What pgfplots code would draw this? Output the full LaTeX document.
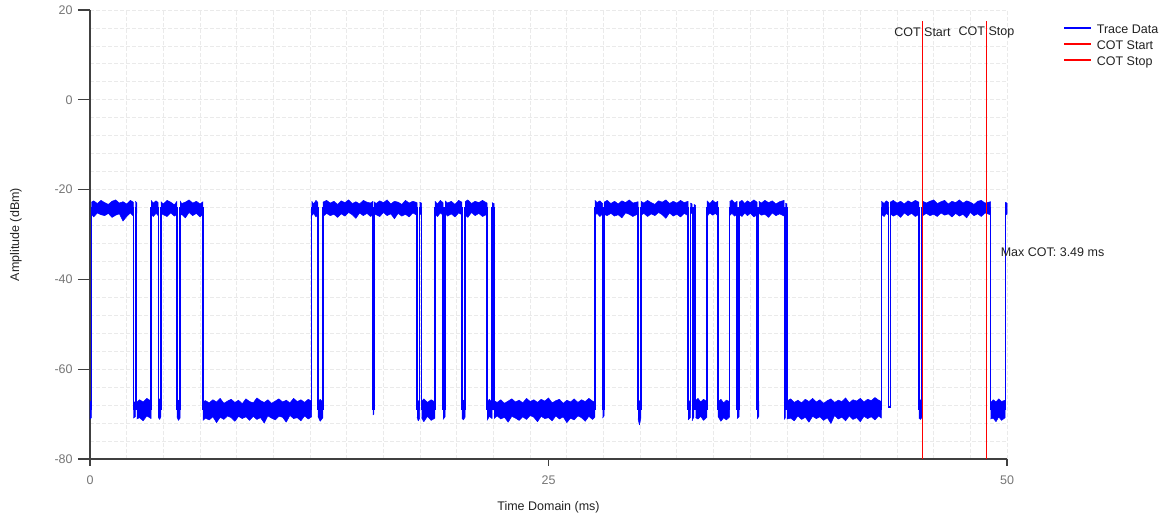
\documentclass[border=0pt]{standalone}
\usepackage{pgfplots}
\pgfplotsset{compat=1.18}
\usepackage{fontspec}
\setmainfont{Liberation Sans}
\definecolor{tracec}{RGB}{0,0,255}
\definecolor{cotc}{RGB}{255,0,0}
\definecolor{gridc}{RGB}{234,234,234}
\definecolor{axisc}{RGB}{64,64,64}
\definecolor{tickc}{RGB}{118,118,118}
\definecolor{labc}{RGB}{34,34,34}
\pgfplotsset{band/.style={forget plot, draw=tracec, fill=tracec, line width=0.5pt, line join=round}}
\begin{document}
\fontsize{12.5}{15}\selectfont
\begin{tikzpicture}
\begin{axis}[
 scale only axis, width=917pt, height=449pt,
 xmin=0, xmax=50, ymin=-80, ymax=20,
 clip=false,
 axis x line*=bottom, axis y line*=left,
 axis line style={axisc, line width=1.3pt, -},
 xtick={0,25,50}, ytick={-80,-60,...,20},
 minor xtick={0,2,...,50}, minor ytick={-80,-76,...,20},
 xminorgrids=true, yminorgrids=true,
 minor grid style={gridc, dash pattern=on 4pt off 2pt, line width=0.8pt},
 minor tick length=0pt, major tick length=12pt,
 tickwidth=12pt, subtickwidth=0pt,
 xtick align=outside, ytick align=outside,
 xtick style={draw=none},
 ytick style={axisc, line width=1.3pt},
 /pgf/number format/assume math mode=true,
 ticklabel style={font=\fontsize{12.5}{15}\selectfont, text=tickc},
 yticklabel style={xshift=-1pt},
 xticklabel style={yshift=0pt},
 xlabel={Time Domain (ms)}, ylabel={Amplitude (dBm)},
 every axis x label/.style={at={(axis description cs:0.5,0)}, yshift=-48pt, anchor=center, font=\fontsize{12.5}{15}\selectfont, text=labc},
 every axis y label/.style={at={(axis description cs:0,0.5)}, xshift=-74pt, rotate=90, anchor=center, font=\fontsize{12.5}{15}\selectfont, text=labc},
 legend style={at={(rel axis cs:1.058,0.975)}, anchor=north west, draw=none, fill=none,
   font=\fontsize{12.5}{15}\selectfont, text=labc, row sep=1pt,
   nodes={inner sep=1.5pt, text height=9pt, text depth=3pt},
   /tikz/every odd column/.append style={column sep=3pt}},
 legend cell align=left,
 legend image code/.code={\draw[#1, line width=2pt] (0pt,2.5pt) -- (27pt,2.5pt);},
]
% ---- trace bands (high level) ----
\addplot[band] coordinates {(0.08,-22.8)(0.2,-22.5)(0.4,-23.1)(0.6,-22.4)(0.8,-22.9)(1.0,-23.3)(1.2,-22.6)(1.4,-22.3)(1.6,-23.0)(1.8,-22.7)(2.0,-23.2)(2.2,-22.4)(2.36,-22.8)(2.36,-25.9)(2.2,-25.2)(2.0,-26.0)(1.8,-27.0)(1.6,-25.4)(1.4,-25.7)(1.2,-26.2)(1.0,-25.3)(0.8,-25.8)(0.6,-25.6)(0.4,-25.2)(0.2,-26.1)(0.08,-25.4)};
\addplot[band] coordinates {(2.47,-22.6)(2.55,-22.9)(2.55,-25.3)(2.47,-25.6)};
\addplot[band] coordinates {(3.33,-22.4)(3.45,-23.0)(3.6,-22.5)(3.72,-22.9)(3.72,-25.8)(3.6,-25.3)(3.45,-26.0)(3.33,-25.4)};
\addplot[band] coordinates {(3.87,-22.7)(4.0,-23.2)(4.2,-22.4)(4.4,-22.8)(4.6,-23.4)(4.74,-22.6)(4.74,-25.5)(4.6,-25.9)(4.4,-25.2)(4.2,-26.0)(4.0,-25.6)(3.87,-25.3)};
\addplot[band] coordinates {(4.91,-22.5)(5.0,-23.1)(5.2,-22.8)(5.4,-22.3)(5.6,-23.0)(5.8,-22.6)(6.0,-23.2)(6.16,-22.7)(6.16,-25.4)(6.0,-26.1)(5.8,-25.3)(5.6,-25.8)(5.4,-25.1)(5.2,-26.3)(5.0,-25.5)(4.91,-25.9)};
\addplot[band] coordinates {(12.09,-22.6)(12.2,-23.2)(12.32,-22.4)(12.43,-22.9)(12.43,-25.6)(12.32,-26.1)(12.2,-25.3)(12.09,-25.8)};
\addplot[band] coordinates {(12.7,-22.8)(12.9,-22.4)(13.1,-23.0)(13.3,-22.6)(13.5,-23.3)(13.7,-22.5)(13.9,-22.9)(14.1,-22.3)(14.3,-23.1)(14.5,-22.7)(14.7,-23.2)(14.9,-22.4)(15.1,-22.8)(15.3,-23.0)(15.43,-22.6)(15.43,-25.5)(15.3,-26.0)(15.1,-25.3)(14.9,-25.8)(14.7,-25.2)(14.5,-26.4)(14.3,-25.6)(14.1,-25.1)(13.9,-25.9)(13.7,-25.4)(13.5,-26.2)(13.3,-25.5)(13.1,-25.8)(12.9,-25.3)(12.7,-26.0)};
\addplot[band] coordinates {(15.48,-22.7)(15.6,-23.1)(15.8,-22.5)(16.0,-22.9)(16.2,-22.3)(16.4,-23.2)(16.6,-22.6)(16.8,-22.8)(17.0,-23.3)(17.2,-22.4)(17.4,-23.0)(17.6,-22.6)(17.83,-22.9)(17.83,-25.7)(17.6,-25.2)(17.4,-26.1)(17.2,-25.5)(17.0,-25.9)(16.8,-25.3)(16.6,-26.5)(16.4,-25.4)(16.2,-25.8)(16.0,-25.1)(15.8,-26.0)(15.6,-25.6)(15.48,-25.3)};
\addplot[band] coordinates {(17.97,-22.8)(18.08,-23.0)(18.08,-25.4)(17.97,-25.6)};
\addplot[band] coordinates {(18.81,-22.6)(18.95,-23.2)(19.1,-22.4)(19.25,-22.9)(19.25,-25.7)(19.1,-25.2)(18.95,-26.0)(18.81,-25.5)};
\addplot[band] coordinates {(19.36,-22.5)(19.5,-23.0)(19.7,-22.6)(19.9,-23.3)(20.1,-22.4)(20.28,-22.8)(20.28,-25.6)(20.1,-25.2)(19.9,-26.1)(19.7,-25.4)(19.5,-25.9)(19.36,-25.3)};
\addplot[band] coordinates {(20.45,-22.7)(20.6,-22.3)(20.8,-23.1)(21.0,-22.6)(21.2,-22.9)(21.4,-22.4)(21.65,-23.0)(21.65,-25.5)(21.4,-26.0)(21.2,-25.3)(21.0,-25.8)(20.8,-25.1)(20.6,-26.2)(20.45,-25.6)};
\addplot[band] coordinates {(21.92,-22.9)(22.03,-23.1)(22.03,-25.5)(21.92,-25.4)};
\addplot[band] coordinates {(27.53,-22.4)(27.65,-22.9)(27.8,-22.5)(27.95,-23.1)(27.95,-25.4)(27.8,-26.0)(27.65,-25.3)(27.53,-25.7)};
\addplot[band] coordinates {(28.03,-22.8)(28.2,-22.4)(28.4,-23.1)(28.6,-22.6)(28.8,-23.2)(29.0,-22.5)(29.2,-22.9)(29.4,-22.3)(29.6,-23.0)(29.88,-22.7)(29.88,-25.4)(29.6,-26.0)(29.4,-25.5)(29.2,-25.2)(29.0,-26.3)(28.8,-25.6)(28.6,-25.9)(28.4,-25.3)(28.2,-25.8)(28.03,-25.5)};
\addplot[band] coordinates {(30.04,-22.6)(30.2,-23.0)(30.4,-22.4)(30.6,-22.9)(30.8,-23.3)(31.0,-22.5)(31.2,-22.8)(31.4,-22.3)(31.6,-23.1)(31.8,-22.6)(32.0,-23.0)(32.2,-22.4)(32.4,-22.9)(32.61,-22.6)(32.61,-25.8)(32.4,-25.3)(32.2,-26.1)(32.0,-25.5)(31.8,-25.9)(31.6,-25.2)(31.4,-26.4)(31.2,-25.6)(31.0,-25.1)(30.8,-25.8)(30.6,-25.4)(30.4,-26.0)(30.2,-25.3)(30.04,-25.7)};
\addplot[band] coordinates {(32.74,-23.0)(32.83,-23.2)(32.83,-25.2)(32.74,-25.4)};
\addplot[band] coordinates {(32.93,-23.3)(33.02,-23.5)(33.02,-25.0)(32.93,-25.2)};
\addplot[band] coordinates {(33.64,-22.5)(33.8,-23.1)(33.95,-22.4)(34.1,-22.9)(34.24,-22.6)(34.24,-25.9)(34.1,-25.3)(33.95,-25.7)(33.8,-25.2)(33.64,-26.0)};
\addplot[band] coordinates {(34.88,-22.7)(35.0,-22.3)(35.15,-23.0)(35.28,-22.6)(35.28,-25.4)(35.15,-25.9)(35.0,-25.3)(34.88,-25.8)};
\addplot[band] coordinates {(35.39,-22.8)(35.55,-22.4)(35.7,-23.1)(35.85,-22.5)(36.0,-22.9)(36.2,-22.3)(36.37,-22.8)(36.37,-25.6)(36.2,-26.1)(36.0,-25.3)(35.85,-25.8)(35.7,-25.2)(35.55,-26.0)(35.39,-25.5)};
\addplot[band] coordinates {(36.47,-22.6)(36.6,-23.0)(36.8,-22.4)(37.0,-22.9)(37.2,-22.5)(37.4,-23.2)(37.6,-22.7)(37.85,-22.4)(37.85,-25.9)(37.6,-25.4)(37.4,-25.8)(37.2,-25.2)(37.0,-26.2)(36.8,-25.5)(36.6,-25.7)(36.47,-25.3)};
\addplot[band] coordinates {(37.92,-23.0)(38.0,-23.2)(38.0,-25.3)(37.92,-25.5)};
\addplot[band] coordinates {(43.15,-22.6)(43.3,-23.1)(43.42,-22.5)(43.55,-22.9)(43.55,-25.7)(43.42,-25.3)(43.3,-26.0)(43.15,-25.5)};
\addplot[band] coordinates {(43.63,-22.8)(43.8,-22.4)(44.0,-23.0)(44.2,-22.6)(44.4,-23.2)(44.6,-22.5)(44.8,-22.9)(45.0,-22.4)(45.2,-22.8)(45.2,-25.5)(45.0,-26.0)(44.8,-25.3)(44.6,-25.8)(44.4,-25.2)(44.2,-26.2)(44.0,-25.5)(43.8,-25.9)(43.63,-25.4)};
\addplot[band] coordinates {(45.37,-22.5)(45.6,-23.0)(45.8,-22.6)(46.0,-22.3)(46.2,-23.1)(46.4,-22.7)(46.6,-22.4)(46.8,-23.2)(47.0,-22.6)(47.2,-22.9)(47.4,-22.3)(47.6,-23.0)(47.8,-22.5)(48.0,-22.8)(48.2,-23.3)(48.4,-22.6)(48.6,-22.4)(48.8,-23.0)(49.1,-22.7)(49.1,-25.6)(48.8,-25.2)(48.6,-26.0)(48.4,-25.4)(48.2,-25.8)(48.0,-25.1)(47.8,-26.3)(47.6,-25.5)(47.4,-25.9)(47.2,-25.3)(47.0,-26.1)(46.8,-25.4)(46.6,-25.7)(46.4,-25.2)(46.2,-26.0)(46.0,-25.5)(45.8,-25.8)(45.6,-25.3)(45.37,-25.9)};
\addplot[band] coordinates {(49.9,-22.8)(50,-23.0)(50,-25.5)(49.9,-25.7)};
% ---- trace bands (low level) ----
\addplot[band] coordinates {(0,-67.3)(0.08,-67.0)(0.08,-70.8)(0,-71.1)};
\addplot[band] coordinates {(2.36,-67.5)(2.47,-67.2)(2.47,-70.6)(2.36,-70.9)};
\addplot[band] coordinates {(2.55,-67.4)(2.7,-66.8)(2.9,-67.3)(3.1,-66.5)(3.33,-67.1)(3.33,-71.0)(3.1,-70.4)(2.9,-71.5)(2.7,-70.8)(2.55,-71.1)};
\addplot[band] coordinates {(3.72,-67.0)(3.8,-66.6)(3.87,-67.2)(3.87,-70.5)(3.8,-71.2)(3.72,-70.7)};
\addplot[band] coordinates {(4.74,-67.5)(4.82,-66.9)(4.91,-67.3)(4.91,-70.9)(4.82,-71.4)(4.74,-70.6)};
\addplot[band] coordinates {(6.16,-67.2)(6.3,-67.0)(6.5,-67.5)(6.7,-66.8)(6.9,-67.3)(7.1,-66.5)(7.3,-67.6)(7.5,-67.1)(7.7,-66.7)(7.9,-67.4)(8.1,-66.9)(8.3,-67.7)(8.5,-66.6)(8.7,-67.2)(8.9,-67.5)(9.1,-66.4)(9.3,-67.0)(9.5,-67.4)(9.7,-66.8)(9.9,-67.6)(10.1,-67.1)(10.3,-66.6)(10.5,-67.3)(10.7,-66.9)(10.9,-67.5)(11.1,-66.5)(11.3,-67.2)(11.5,-66.8)(11.7,-67.4)(11.9,-66.7)(12.09,-67.1)(12.09,-70.6)(11.9,-71.1)(11.7,-70.4)(11.5,-71.5)(11.3,-70.8)(11.1,-71.0)(10.9,-70.3)(10.7,-71.8)(10.5,-70.7)(10.3,-70.5)(10.1,-71.3)(9.9,-70.9)(9.7,-70.4)(9.5,-72.0)(9.3,-70.8)(9.1,-71.2)(8.9,-70.5)(8.7,-71.4)(8.5,-70.6)(8.3,-71.0)(8.1,-70.5)(7.9,-71.6)(7.7,-70.8)(7.5,-70.4)(7.3,-71.2)(7.1,-70.7)(6.9,-71.9)(6.7,-70.6)(6.5,-71.3)(6.3,-70.9)(6.16,-71.4)};
\addplot[band] coordinates {(12.43,-67.3)(12.55,-66.7)(12.7,-67.4)(12.7,-70.8)(12.55,-71.6)(12.43,-70.5)};
\addplot[band] coordinates {(15.43,-67.8)(15.48,-67.8)(15.48,-70.0)(15.43,-70.2)};
\addplot[band] coordinates {(17.83,-67.6)(17.9,-67.0)(17.97,-67.4)(17.97,-71.0)(17.9,-71.5)(17.83,-70.7)};
\addplot[band] coordinates {(18.08,-67.2)(18.2,-66.6)(18.4,-67.4)(18.6,-66.8)(18.81,-67.3)(18.81,-70.9)(18.6,-71.4)(18.4,-70.5)(18.2,-71.7)(18.08,-70.8)};
\addplot[band] coordinates {(19.25,-67.5)(19.36,-67.1)(19.36,-70.6)(19.25,-71.2)};
\addplot[band] coordinates {(20.28,-67.4)(20.36,-66.9)(20.45,-67.3)(20.45,-70.7)(20.36,-71.3)(20.28,-70.9)};
\addplot[band] coordinates {(21.65,-67.3)(21.78,-66.7)(21.92,-67.5)(21.92,-71.0)(21.78,-70.5)(21.65,-71.4)};
\addplot[band] coordinates {(22.03,-67.0)(22.2,-67.4)(22.4,-66.8)(22.6,-67.6)(22.8,-67.1)(23.0,-66.6)(23.2,-67.3)(23.4,-66.9)(23.6,-67.5)(23.8,-66.5)(24.0,-67.2)(24.2,-66.8)(24.4,-67.4)(24.6,-66.7)(24.8,-67.1)(25.0,-66.4)(25.2,-67.5)(25.4,-67.0)(25.6,-66.7)(25.8,-67.6)(26.0,-66.9)(26.2,-67.3)(26.4,-66.6)(26.6,-67.4)(26.8,-66.8)(27.0,-67.2)(27.2,-66.5)(27.4,-67.1)(27.53,-67.3)(27.53,-70.7)(27.4,-71.2)(27.2,-70.5)(27.0,-71.6)(26.8,-70.8)(26.6,-70.4)(26.4,-71.3)(26.2,-70.9)(26.0,-71.9)(25.8,-70.6)(25.6,-71.1)(25.4,-70.4)(25.2,-71.5)(25.0,-70.8)(24.8,-71.0)(24.6,-70.5)(24.4,-71.7)(24.2,-70.7)(24.0,-70.3)(23.8,-71.2)(23.6,-70.6)(23.4,-71.4)(23.2,-70.9)(23.0,-70.5)(22.8,-71.8)(22.6,-70.7)(22.4,-71.1)(22.2,-70.4)(22.03,-71.0)};
\addplot[band] coordinates {(27.95,-67.6)(28.03,-67.2)(28.03,-70.4)(27.95,-70.9)};
\addplot[band] coordinates {(29.88,-67.6)(29.96,-67.0)(30.04,-67.5)(30.04,-70.8)(29.96,-72.4)(29.88,-71.0)};
\addplot[band] coordinates {(32.61,-67.4)(32.74,-66.9)(32.74,-70.8)(32.61,-71.3)};
\addplot[band] coordinates {(32.83,-67.2)(32.93,-67.5)(32.93,-70.6)(32.83,-71.5)};
\addplot[band] coordinates {(33.02,-67.0)(33.15,-66.5)(33.3,-67.3)(33.45,-66.7)(33.64,-67.2)(33.64,-70.7)(33.45,-71.4)(33.3,-70.5)(33.15,-71.1)(33.02,-70.8)};
\addplot[band] coordinates {(34.24,-67.3)(34.4,-66.7)(34.55,-67.5)(34.7,-66.9)(34.88,-67.2)(34.88,-70.6)(34.7,-71.3)(34.55,-70.8)(34.4,-71.6)(34.24,-70.5)};
\addplot[band] coordinates {(35.28,-67.5)(35.39,-67.0)(35.39,-70.6)(35.28,-71.0)};
\addplot[band] coordinates {(36.37,-67.4)(36.47,-67.1)(36.47,-70.5)(36.37,-71.1)};
\addplot[band] coordinates {(37.85,-67.4)(37.92,-67.0)(37.92,-70.8)(37.85,-71.2)};
\addplot[band] coordinates {(38.0,-67.1)(38.2,-66.6)(38.4,-67.4)(38.6,-66.9)(38.8,-67.5)(39.0,-66.7)(39.2,-67.2)(39.4,-66.5)(39.6,-67.3)(39.8,-66.8)(40.0,-67.6)(40.2,-67.0)(40.4,-66.6)(40.6,-67.4)(40.8,-66.9)(41.0,-67.2)(41.2,-66.4)(41.4,-67.5)(41.6,-66.8)(41.8,-67.1)(42.0,-66.5)(42.2,-67.3)(42.4,-66.7)(42.6,-67.0)(42.8,-66.3)(43.0,-66.9)(43.15,-67.2)(43.15,-70.9)(43.0,-70.4)(42.8,-71.3)(42.6,-70.6)(42.4,-71.0)(42.2,-70.5)(42.0,-71.7)(41.8,-70.8)(41.6,-71.2)(41.4,-70.4)(41.2,-71.5)(41.0,-70.7)(40.8,-71.1)(40.6,-70.3)(40.4,-72.1)(40.2,-70.8)(40.0,-71.4)(39.8,-70.6)(39.6,-71.0)(39.4,-70.5)(39.2,-71.8)(39.0,-70.7)(38.8,-71.2)(38.6,-70.4)(38.4,-71.5)(38.2,-70.9)(38.0,-71.1)};
\addplot[band] coordinates {(45.2,-67.2)(45.28,-66.8)(45.37,-67.4)(45.37,-70.7)(45.28,-71.2)(45.2,-70.9)};
\addplot[band] coordinates {(49.1,-67.5)(49.25,-66.8)(49.4,-67.3)(49.55,-66.6)(49.7,-67.2)(49.9,-66.9)(49.9,-70.8)(49.7,-71.4)(49.55,-70.6)(49.4,-71.7)(49.25,-70.9)(49.1,-71.1)};
% ---- trace transitions ----
\addplot[tracec, line width=1.2pt] coordinates {(0,-69)(0.08,-69)(0.08,-24)(2.36,-24)(2.36,-69)(2.47,-69)(2.47,-24)(2.55,-24)(2.55,-69)(3.33,-69)(3.33,-24)(3.72,-24)(3.72,-69)(3.87,-69)(3.87,-24)(4.74,-24)(4.74,-69)(4.91,-69)(4.91,-24)(6.16,-24)(6.16,-69)(12.09,-69)(12.09,-24)(12.43,-24)(12.43,-69)(12.7,-69)(12.7,-24)(15.43,-24)(15.43,-69)(15.48,-69)(15.48,-24)(17.83,-24)(17.83,-69)(17.97,-69)(17.97,-24)(18.08,-24)(18.08,-69)(18.81,-69)(18.81,-24)(19.25,-24)(19.25,-69)(19.36,-69)(19.36,-24)(20.28,-24)(20.28,-69)(20.45,-69)(20.45,-24)(21.65,-24)(21.65,-69)(21.92,-69)(21.92,-24)(22.03,-24)(22.03,-69)(27.53,-69)(27.53,-24)(27.95,-24)(27.95,-69)(28.03,-69)(28.03,-24)(29.88,-24)(29.88,-69)(30.04,-69)(30.04,-24)(32.61,-24)(32.61,-69)(32.74,-69)(32.74,-24)(32.83,-24)(32.83,-69)(32.93,-69)(32.93,-24)(33.02,-24)(33.02,-69)(33.64,-69)(33.64,-24)(34.24,-24)(34.24,-69)(34.88,-69)(34.88,-24)(35.28,-24)(35.28,-69)(35.39,-69)(35.39,-24)(36.37,-24)(36.37,-69)(36.47,-69)(36.47,-24)(37.85,-24)(37.85,-69)(37.92,-69)(37.92,-24)(38.0,-24)(38.0,-69)(43.15,-69)(43.15,-24)(43.55,-24)(43.55,-68.4)(43.63,-68.4)(43.63,-24)(45.2,-24)(45.2,-69)(45.37,-69)(45.37,-24)(49.1,-24)(49.1,-69)(49.9,-69)(49.9,-24)(50,-24)};
\addlegendentry{Trace Data}
\addplot[cotc, line width=1.3pt] coordinates {(45.39,-80)(45.39,17.6)};
\addlegendentry{COT Start}
\addplot[cotc, line width=1.3pt] coordinates {(48.88,-80)(48.88,17.6)};
\addlegendentry{COT Stop}
\node[text=labc, anchor=center, inner sep=0pt] at (axis cs:45.39,15.1) {COT Start};
\node[text=labc, anchor=center, inner sep=0pt] at (axis cs:48.88,15.1) {COT Stop};
\node[text=labc, anchor=west, inner sep=0pt] at (axis cs:49.65,-34) {Max COT: 3.49 ms};
\draw[axisc, line width=1.3pt] (axis cs:0,-80) -- ++(0pt,-7pt);
\draw[axisc, line width=1.3pt] (axis cs:25,-80) -- ++(0pt,-7pt);
\draw[axisc, line width=1.3pt] (axis cs:50,-80) -- ++(0pt,-7pt);
\end{axis}
\path (current axis.south west) ++(-90pt,-63pt) rectangle ++(1175pt,522pt);
\end{tikzpicture}
\end{document}
